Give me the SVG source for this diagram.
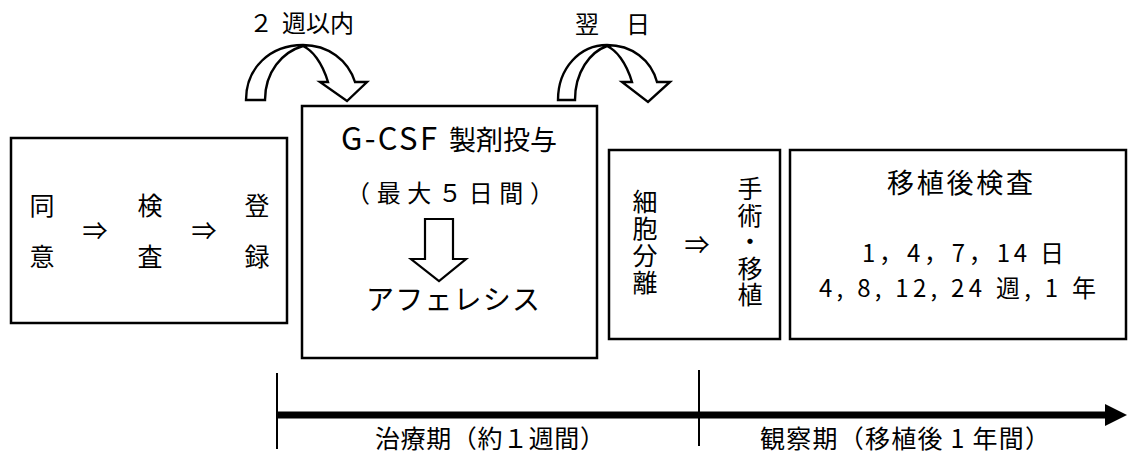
<svg xmlns="http://www.w3.org/2000/svg" width="1129" height="461" viewBox="0 0 1129 461">
<style>
.box{fill:#fff;stroke:#000;stroke-width:2.5}
.t{font-family:"Noto Sans CJK JP","Noto Sans",sans-serif;fill:#000}
.c{text-anchor:middle}
.v{writing-mode:vertical-rl;font-size:25px}
.ca{fill:#fff;stroke:#000;stroke-width:2.4;stroke-linejoin:miter}
</style>
<rect width="1129" height="461" fill="#fff"/>
<g id="connectors">
  <path class="ca" d="M246,100 C246,68 270,45 303,45 C328,45 348,60 355,82 L367,82 L347,101 L320,82 L328,82 C322,62 312,50 303,46 C282,52 265,72 265,100 Z"/>
  <path class="ca" d="M558,100 C558,68 580,45 607,45 C632,45 651,60 657,82 L670,82 L648,102 L622,82 L632,82 C626,62 616,50 607,46 C590,52 575,72 575,100 Z"/>
  <line x1="277" y1="373" x2="277" y2="449" stroke="#000" stroke-width="2"/>
  <line x1="699" y1="370" x2="699" y2="446" stroke="#000" stroke-width="2"/>
  <line x1="277" y1="415" x2="1108" y2="415" stroke="#000" stroke-width="7"/>
  <polygon points="1105,404 1127,415 1105,426" fill="#000"/>
</g>
<g id="labels">
  <text class="t" y="32" font-size="24"><tspan x="249">２</tspan><tspan x="282">週以内</tspan></text>
  <text class="t" y="33" font-size="24"><tspan x="575">翌</tspan><tspan x="626">日</tspan></text>
  <text class="t" x="375" y="448" font-size="25" textLength="230" lengthAdjust="spacing">治療期（約１週間）</text>
  <text class="t" x="760" y="448" font-size="25" textLength="290" lengthAdjust="spacing">観察期（移植後 1 年間）</text>
</g>
<g id="node-consent">
  <rect class="box" x="11" y="138" width="276" height="185"/>
  <text class="t c" x="42" y="215" font-size="25">同</text>
  <text class="t c" x="42" y="266" font-size="25">意</text>
  <text class="t c" x="95" y="240" font-size="25">⇒</text>
  <text class="t c" x="150" y="215" font-size="25">検</text>
  <text class="t c" x="150" y="266" font-size="25">査</text>
  <text class="t c" x="204" y="240" font-size="25">⇒</text>
  <text class="t c" x="257" y="215" font-size="25">登</text>
  <text class="t c" x="257" y="266" font-size="25">録</text>
</g>
<g id="node-gcsf">
  <rect class="box" x="302" y="106" width="295" height="252"/>
  <text class="t" y="150"><tspan x="341" font-size="31" textLength="96" lengthAdjust="spacing">G-CSF</tspan><tspan x="449" font-size="27" textLength="108" lengthAdjust="spacing">製剤投与</tspan></text>
  <text class="t" x="346" y="202" font-size="24" textLength="208" lengthAdjust="spacing">（最大５日間）</text>
  <polygon points="425,219 453,219 453,259 466,259 439,281 411,259 425,259" fill="#fff" stroke="#000" stroke-width="2.2"/>
  <text class="t" x="366" y="310" font-size="28" textLength="174" lengthAdjust="spacing">アフェレシス</text>
</g>
<g id="node-separation">
  <rect class="box" x="609" y="150" width="171" height="189"/>
  <text class="t v" x="645" y="189" letter-spacing="2">細胞分離</text>
  <text class="t c" x="697" y="254" font-size="25">⇒</text>
  <text class="t v" x="750" y="176" letter-spacing="1.6">手術・移植</text>
</g>
<g id="node-followup">
  <rect class="box" x="790" y="150" width="336" height="189"/>
  <text class="t c" x="960" y="193" font-size="27" textLength="146" lengthAdjust="spacing">移植後検査</text>
  <text class="t" x="862" y="262" font-size="24" textLength="202" lengthAdjust="spacing">1，4，7，14 日</text>
  <text class="t" x="819" y="297" font-size="24" textLength="277" lengthAdjust="spacing">4, 8, 12, 24 週, 1 年</text>
</g>
</svg>
